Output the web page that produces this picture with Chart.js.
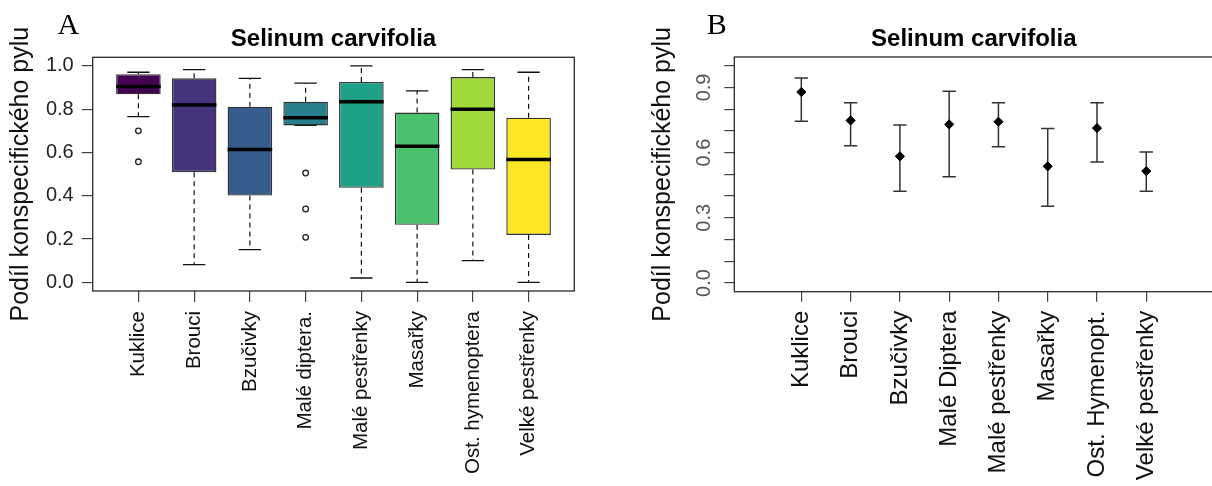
<!DOCTYPE html>
<html><head><meta charset="utf-8">
<script src="https://cdn.jsdelivr.net/npm/chart.js@4"></script>
<style>
html,body{margin:0;padding:0;background:#fff;overflow:hidden;width:1212px;height:486px;position:relative;}
#ca{position:absolute;left:0;top:0;}
#cb{position:absolute;left:640px;top:0;}
</style></head><body>
<canvas id="ca" width="600" height="486"></canvas>
<canvas id="cb" width="580" height="486"></canvas>
<script>
// ---------- DATA ----------
const chartTitle = 'Selinum carvifolia';
const yAxisTitle = 'Podíl konspecifického pylu';
const panelLetters = ['A', 'B'];

// Panel A: boxplots
const categoriesA = ['Kuklice', 'Brouci', 'Bzučivky', 'Malé diptera.', 'Malé pestřenky', 'Masařky', 'Ost. hymenoptera', 'Velké pestřenky'];
const lowerWhiskerA = [0.766, 0.082, 0.151, 0.725, 0.020, 0.000, 0.100, 0.000];
const q1A           = [0.869, 0.509, 0.401, 0.725, 0.437, 0.266, 0.521, 0.219];
const medianA       = [0.905, 0.819, 0.614, 0.761, 0.835, 0.629, 0.800, 0.568];
const q3A           = [0.962, 0.943, 0.812, 0.835, 0.926, 0.785, 0.949, 0.761];
const upperWhiskerA = [0.971, 0.983, 0.943, 0.921, 1.000, 0.885, 0.983, 0.971];
const outliersA     = [[0.700, 0.557], [], [], [0.505, 0.339, 0.208], [], [], [], []];
const boxColorsA    = ['#440154', '#46337E', '#365C8D', '#277F8E', '#1FA187', '#4AC16D', '#9FDA3A', '#FDE725'];
const yTicksA       = [0, 0.2, 0.4, 0.6, 0.8, 1.0];
const yTickLabelsA  = ['0.0', '0.2', '0.4', '0.6', '0.8', '1.0'];

// Panel B: means with error bars
const categoriesB = ['Kuklice', 'Brouci', 'Bzučivky', 'Malé Diptera', 'Malé pestřenky', 'Masařky', 'Ost. Hymenopt.', 'Velké pestřenky'];
const meanB  = [0.879, 0.748, 0.583, 0.730, 0.742, 0.537, 0.713, 0.515];
const lowerB = [0.744, 0.632, 0.422, 0.489, 0.627, 0.353, 0.557, 0.422];
const upperB = [0.943, 0.830, 0.727, 0.882, 0.830, 0.711, 0.830, 0.603];
const yTicksB       = [0, 0.1, 0.2, 0.3, 0.4, 0.5, 0.6, 0.7, 0.8, 0.9, 1.0];
const yTickLabelsB  = ['0.0', '0.3', '0.6', '0.9'];
const yTickLabelValuesB = [0, 0.3, 0.6, 0.9];

// ---------- HELPERS ----------
const SANS = "'Liberation Sans', Arial, Helvetica, sans-serif";
const SERIF = "'Liberation Serif', 'Times New Roman', serif";
const BOX_HALF = 0.4, STAPLE_HALF = 0.2, CAP_HALF = 0.135;

function segments(n, fn) {
  const out = [];
  for (let i = 0; i < n; i++) {
    fn(i + 1, i).forEach(seg => { out.push(...seg, { x: i + 1, y: null }); });
  }
  return out;
}

const framePlugin = {
  id: 'frame',
  afterDraw(chart, args, opts) {
    const { ctx, chartArea: a } = chart;
    ctx.save();
    ctx.strokeStyle = '#2a2a2a';
    ctx.lineWidth = 1.3;
    ctx.strokeRect(a.left, a.top, a.right - a.left, a.bottom - a.top);
    ctx.fillStyle = '#000';
    ctx.textBaseline = 'alphabetic';
    ctx.textAlign = 'center';
    ctx.font = 'bold 24px ' + SANS;
    ctx.fillText(opts.title, (a.left + a.right) / 2, 46);
    ctx.textAlign = 'left';
    ctx.font = '30px ' + SERIF;
    ctx.fillText(opts.letter, opts.letterX, 34);
    ctx.restore();
  }
};

function tickGrid(len) {
  return { drawOnChartArea: false, drawTicks: true, tickLength: len, color: '#444', lineWidth: 1.2, offset: false };
}

// ---------- PANEL A ----------
const nA = categoriesA.length;
const boxData = categoriesA.map((c, i) => ({ x: i + 1, y: [q1A[i], q3A[i]] }));
const medianData = segments(nA, (x, i) => [[{ x: x - BOX_HALF, y: medianA[i] }, { x: x + BOX_HALF, y: medianA[i] }]]);
const whiskerData = segments(nA, (x, i) => [
  [{ x, y: q3A[i] }, { x, y: upperWhiskerA[i] }],
  [{ x, y: q1A[i] }, { x, y: lowerWhiskerA[i] }]
]);
const stapleData = segments(nA, (x, i) => [
  [{ x: x - STAPLE_HALF, y: upperWhiskerA[i] }, { x: x + STAPLE_HALF, y: upperWhiskerA[i] }],
  [{ x: x - STAPLE_HALF, y: lowerWhiskerA[i] }, { x: x + STAPLE_HALF, y: lowerWhiskerA[i] }]
]);
const outlierData = [];
outliersA.forEach((arr, i) => arr.forEach(v => outlierData.push({ x: i + 1, y: v })));

new Chart(document.getElementById('ca'), {
  type: 'bar',
  data: {
    datasets: [
      { type: 'line', data: whiskerData, borderColor: '#111', borderWidth: 1.2, borderDash: [5, 4], pointRadius: 0, spanGaps: false, order: 5 },
      { type: 'line', data: stapleData, borderColor: '#111', borderWidth: 1.3, pointRadius: 0, spanGaps: false, order: 4 },
      { type: 'bar', data: boxData, backgroundColor: boxColorsA, borderColor: '#333', borderWidth: 1.4, borderSkipped: false,
        categoryPercentage: 1, barPercentage: 2 * BOX_HALF, order: 3 },
      { type: 'line', data: medianData, borderColor: '#000', borderWidth: 3.5, pointRadius: 0, spanGaps: false, order: 2 },
      { type: 'scatter', data: outlierData, pointStyle: 'circle', pointRadius: 2.8, pointBorderWidth: 1.3,
        pointBorderColor: '#222', pointBackgroundColor: '#fff', order: 1 }
    ]
  },
  options: {
    responsive: false, animation: false, events: [], devicePixelRatio: 1,
    layout: { padding: { left: 0, top: 57.3, right: 25.7, bottom: 0 } },
    plugins: { legend: { display: false }, tooltip: { enabled: false },
      frame: { title: chartTitle, letter: panelLetters[0], letterX: 57.5 } },
    scales: {
      x: {
        type: 'linear', min: 0.18, max: 8.82, offset: false,
        afterBuildTicks: s => { s.ticks = categoriesA.map((c, i) => ({ value: i + 1 })); },
        afterFit: s => { s.height = 195; },
        grid: tickGrid(11), border: { display: false },
        ticks: { autoSkip: false, minRotation: 90, maxRotation: 90, padding: 9, color: '#111',
          font: { family: SANS, size: 20.5 }, callback: v => categoriesA[Math.round(v) - 1] }
      },
      y: {
        type: 'linear', min: -0.04, max: 1.04,
        afterBuildTicks: s => { s.ticks = yTicksA.map(v => ({ value: v })); },
        afterFit: s => { s.width = 92.7; },
        grid: tickGrid(11), border: { display: false },
        ticks: { padding: 8, color: '#222', font: { family: SANS, size: 20 },
          callback: (v, idx) => yTickLabelsA[idx] },
        title: { display: true, text: yAxisTitle, color: '#111', font: { family: SANS, size: 25 }, padding: { top: 6, bottom: 0 } }
      }
    }
  },
  plugins: [framePlugin]
});

// ---------- PANEL B ----------
const nB = categoriesB.length;
const meanData = categoriesB.map((c, i) => ({ x: i + 1, y: meanB[i] }));
const errBarData = segments(nB, (x, i) => [[{ x, y: lowerB[i] }, { x, y: upperB[i] }]]);
const capData = segments(nB, (x, i) => [
  [{ x: x - CAP_HALF, y: upperB[i] }, { x: x + CAP_HALF, y: upperB[i] }],
  [{ x: x - CAP_HALF, y: lowerB[i] }, { x: x + CAP_HALF, y: lowerB[i] }]
]);

new Chart(document.getElementById('cb'), {
  type: 'scatter',
  data: {
    datasets: [
      { type: 'line', data: errBarData, borderColor: '#333', borderWidth: 1.5, pointRadius: 0, spanGaps: false, order: 3 },
      { type: 'line', data: capData, borderColor: '#333', borderWidth: 1.5, pointRadius: 0, spanGaps: false, order: 2 },
      { type: 'scatter', data: meanData, pointStyle: 'rectRot', pointRadius: 4.6, pointBorderWidth: 1,
        pointBackgroundColor: '#000', pointBorderColor: '#000', order: 1 }
    ]
  },
  options: {
    responsive: false, animation: false, events: [], devicePixelRatio: 1,
    layout: { padding: { left: 0, top: 57, right: 6.7, bottom: 0 } },
    plugins: { legend: { display: false }, tooltip: { enabled: false },
      frame: { title: chartTitle, letter: panelLetters[1], letterX: 66.7 } },
    scales: {
      x: {
        type: 'linear', min: -0.36, max: 9.36, offset: false,
        afterBuildTicks: s => { s.ticks = categoriesB.map((c, i) => ({ value: i + 1 })); },
        afterFit: s => { s.height = 486 - 291.7; },
        grid: tickGrid(10), border: { display: false },
        ticks: { autoSkip: false, minRotation: 90, maxRotation: 90, padding: 9, color: '#111',
          font: { family: SANS, size: 24 }, callback: v => categoriesB[Math.round(v) - 1] }
      },
      y: {
        type: 'linear', min: -0.04, max: 1.04,
        afterBuildTicks: s => { s.ticks = yTicksB.map(v => ({ value: v })); },
        afterFit: s => { s.width = 94.3; },
        grid: tickGrid(10), border: { display: false },
        ticks: { padding: 6, color: '#555', minRotation: 90, maxRotation: 90, crossAlign: 'center', autoSkip: false,
          font: { family: SANS, size: 20 },
          callback: v => { const k = yTickLabelValuesB.findIndex(t => Math.abs(t - v) < 1e-6); return k >= 0 ? yTickLabelsB[k] : ''; } },
        title: { display: true, text: yAxisTitle, color: '#111', font: { family: SANS, size: 25 }, padding: { top: 8.6, bottom: 0 } }
      }
    }
  },
  plugins: [framePlugin]
});
</script>
</body></html>
